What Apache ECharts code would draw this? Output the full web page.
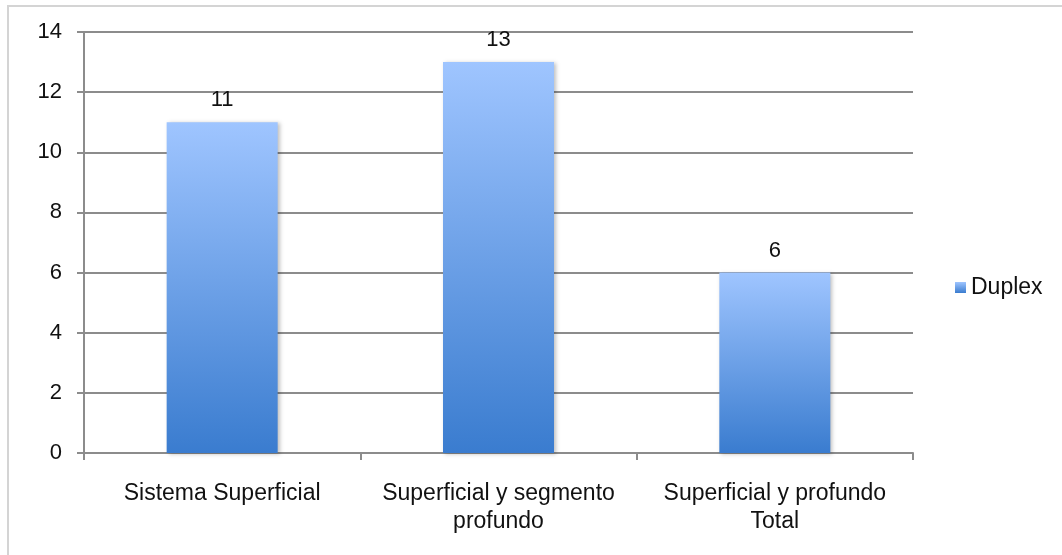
<!DOCTYPE html>
<html>
<head>
<meta charset="utf-8">
<script src="https://cdn.jsdelivr.net/npm/echarts@6/dist/echarts.min.js"></script>
<style>
  html, body { margin: 0; padding: 0; background: #fff; }
  #frame { position: absolute; left: 7px; top: 5px; width: 1070px; height: 570px;
           border: 2px solid #d4d4d4; box-sizing: border-box; }
  #chart { position: absolute; left: 0; top: 0; width: 1062px; height: 555px; }
</style>
</head>
<body>
<div id="frame"></div>
<div id="chart"></div>
<script>
// Chart data
const categories = ['Sistema Superficial', 'Superficial y segmento\nprofundo', 'Superficial y profundo\nTotal'];
const seriesName = 'Duplex';
const duplexValues = [11, 13, 6];
const yTicks = { min: 0, max: 14, interval: 2 };

const chart = echarts.init(document.getElementById('chart'), null, { renderer: 'canvas' });

const barFill = new echarts.graphic.LinearGradient(0, 0, 0, 1, [
  { offset: 0, color: '#9fc5ff' },
  { offset: 1, color: '#3a7ccf' }
]);

const textFont = 'Liberation Sans, Arial, sans-serif';
const textColor = '#111111';

chart.setOption({
  backgroundColor: 'transparent',
  animation: false,
  grid: { left: 84, right: 149, top: 32, bottom: 102, containLabel: false },
  legend: {
    data: [seriesName],
    left: 950, top: 271,
    orient: 'vertical',
    itemWidth: 11, itemHeight: 11, itemGap: 8,
    icon: 'rect',
    textStyle: { fontFamily: textFont, fontSize: 23, color: textColor }
  },
  xAxis: {
    type: 'category',
    data: categories,
    axisLine: { show: true, lineStyle: { color: '#8c8c8c', width: 2 } },
    axisTick: { show: true, length: 7, inside: false, lineStyle: { color: '#8c8c8c', width: 2 } },
    axisLabel: {
      interval: 0, margin: 27, fontFamily: textFont, fontSize: 23,
      lineHeight: 28, color: textColor, align: 'center'
    },
    splitLine: { show: false }
  },
  yAxis: {
    type: 'value',
    min: yTicks.min, max: yTicks.max, interval: yTicks.interval,
    axisLine: { show: true, lineStyle: { color: '#8c8c8c', width: 2 } },
    axisTick: { show: true, length: 7, lineStyle: { color: '#8c8c8c', width: 2 } },
    axisLabel: { margin: 22, fontFamily: textFont, fontSize: 22, color: textColor },
    splitLine: { show: true, lineStyle: { color: '#8c8c8c', width: 2 } }
  },
  series: [{
    name: seriesName,
    type: 'bar',
    data: duplexValues,
    barWidth: 111,
    itemStyle: {
      color: barFill,
      shadowColor: 'rgba(0,0,0,0.25)', shadowBlur: 4, shadowOffsetX: 2, shadowOffsetY: 1
    },
    label: {
      show: true, position: 'top', distance: 11,
      fontFamily: textFont, fontSize: 22, color: textColor
    }
  }]
});
</script>
</body>
</html>
